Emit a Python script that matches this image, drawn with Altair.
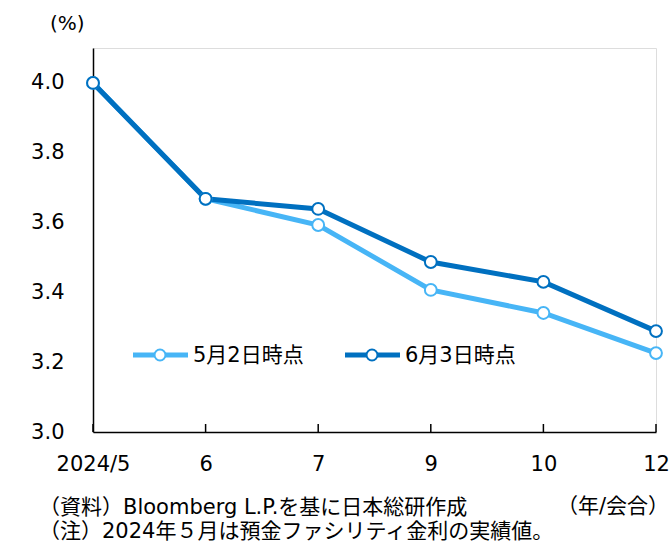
import altair as alt
import pandas as pd

labels = ["2024/5", "6", "7", "9", "10", "12"]
series_names = ["5月2日時点", "6月3日時点"]
may2 = [4.0, 3.668, 3.593, 3.407, 3.341, 3.226]
jun3 = [4.0, 3.668, 3.639, 3.487, 3.430, 3.289]
colors = ["#47B5F6", "#0070C0"]

W, H = 563, 384
FONT = "DejaVu Sans"
MIXFONT = "DejaVu Sans, Noto Sans CJK JP"

rows = []
for i, lab in enumerate(labels):
    rows.append({"x": lab, "s": series_names[0], "v": may2[i]})
    rows.append({"x": lab, "s": series_names[1], "v": jun3[i]})
df = pd.DataFrame(rows)

xenc = alt.X("x:N", sort=labels, scale=alt.Scale(type="point", padding=0),
             axis=alt.Axis(title=None, labelAngle=0, tickSize=0, labelPadding=21,
                           labelFontSize=21, labelFont=FONT, labelColor="#000",
                           domainColor="#000", domainWidth=1.5, labelFlush=False))
yenc = alt.Y("v:Q", scale=alt.Scale(domain=[3.0, 4.1], nice=False),
             axis=alt.Axis(title=None, values=[3.0, 3.2, 3.4, 3.6, 3.8, 4.0], format=".1f",
                           tickSize=0, labelPadding=29, grid=False, labelFontSize=21,
                           labelFont=FONT, labelColor="#000", domainColor="#000",
                           domainWidth=1.5))
cenc = alt.Color("s:N", scale=alt.Scale(domain=series_names, range=colors), legend=None)
senc = alt.Stroke("s:N", scale=alt.Scale(domain=series_names, range=colors), legend=None)

base = alt.Chart(df)
layers = []
for name in series_names:
    sub = base.transform_filter(alt.datum.s == name)
    layers.append(sub.mark_line(strokeWidth=5).encode(x=xenc, y=yenc, color=cenc))
for name in series_names:
    sub = base.transform_filter(alt.datum.s == name)
    layers.append(sub.mark_point(filled=True, fill="white", size=140, strokeWidth=2, opacity=1)
                  .encode(x=xenc, y=yenc, stroke=senc))

ticks = alt.Chart(pd.DataFrame({"x": labels})).mark_rule(color="#000", strokeWidth=1.5).encode(
    x=alt.X("x:N", sort=labels, scale=alt.Scale(type="point", padding=0)),
    y=alt.value(H), y2=alt.value(H - 8))
layers.append(ticks)

# manual legend
leg_x = [40, 252]
for k, name in enumerate(series_names):
    d = alt.Chart(pd.DataFrame({"s": [name]}))
    x0 = leg_x[k]
    layers.append(d.mark_rule(color=colors[k], strokeWidth=5).encode(
        x=alt.value(x0), x2=alt.value(x0 + 55), y=alt.value(307)))
    layers.append(d.mark_point(filled=True, fill="white", stroke=colors[k], size=120, strokeWidth=2, opacity=1).encode(
        x=alt.value(x0 + 27), y=alt.value(307)))
    layers.append(d.mark_text(align="left", baseline="middle", fontSize=21, font=MIXFONT, color="#000").encode(
        x=alt.value(x0 + 60), y=alt.value(308), text="s:N"))

# texts
texts = [
    ("(%)", -43, -24, "left"),
    ("（資料）Bloomberg L.P.を基に日本総研作成", -54, 460, "left"),
    ("（注）2024年５月は預金ファシリティ金利の実績値。", -54, 484, "left"),
    ("（年/会合）", 576, 459, "right"),
]
for t, x, y, a in texts:
    layers.append(alt.Chart(pd.DataFrame({"t": [t]})).mark_text(
        align=a, baseline="middle", fontSize=21 if t != "(%)" else 20, font=MIXFONT, color="#000").encode(
        x=alt.value(x), y=alt.value(y), text="t:N"))

chart = alt.layer(*layers).properties(
    width=W, height=H,
    padding={"left": 93, "top": 48, "right": 15, "bottom": 110},
    autosize=alt.AutoSizeParams(type="none"),
).configure_view(stroke=None).configure(background="white")

chart.save("out.html", embed_options={"renderer": "svg", "actions": False})
